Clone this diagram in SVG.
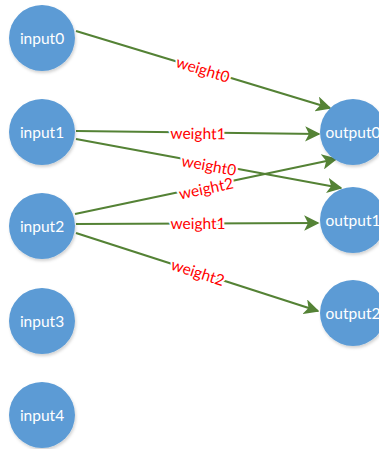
<svg xmlns="http://www.w3.org/2000/svg" width="379" height="449" viewBox="0 0 379 449">
<defs>
<filter id="sh" x="-20%" y="-20%" width="150%" height="150%"><feDropShadow dx="1" dy="2" stdDeviation="1.5" flood-color="#000" flood-opacity="0.18"/></filter>
<marker id="ah" viewBox="0 0 10 10" refX="9" refY="5" markerWidth="7" markerHeight="7" markerUnits="strokeWidth" orient="auto"><path d="M0,0 L10,5 L0,10 L2.5,5 z" fill="#548235"/></marker>
</defs>
<style>
.n{fill:#5B9BD5;filter:url(#sh)}
.t{fill:#fff;font-family:Lato,"Open Sans",sans-serif;font-size:15.5px;text-anchor:middle;dominant-baseline:central}
.e{stroke:#548235;stroke-width:2.2;fill:none;marker-end:url(#ah)}
.l{fill:#f00;font-family:Lato,"Open Sans",sans-serif;font-size:15.5px;text-anchor:middle;dominant-baseline:central;stroke:#fff;stroke-width:4;paint-order:stroke}
</style>
<g id="connectors">
<line class="e" x1="76" y1="31" x2="330" y2="108"/>
<line class="e" x1="76" y1="131" x2="319" y2="134"/>
<line class="e" x1="76" y1="139" x2="341" y2="188"/>
<line class="e" x1="75" y1="214" x2="336" y2="159"/>
<line class="e" x1="76" y1="224" x2="318" y2="223"/>
<line class="e" x1="76" y1="233" x2="318" y2="311"/>
<text class="l" transform="translate(203,69) rotate(16.9)">weight0</text>
<text class="l" transform="translate(198,133) rotate(0.7)">weight1</text>
<text class="l" transform="translate(209,165) rotate(10.5)">weight0</text>
<text class="l" transform="translate(206,188) rotate(-11.9)">weight2</text>
<text class="l" transform="translate(198,223) rotate(-0.2)">weight1</text>
<text class="l" transform="translate(198,272) rotate(17.8)">weight2</text>
</g>
<g id="input0"><circle class="n" cx="42" cy="38" r="33"/><text class="t" x="42" y="38">input0</text></g>
<g id="input1"><circle class="n" cx="42" cy="132" r="33"/><text class="t" x="42" y="132">input1</text></g>
<g id="input2"><circle class="n" cx="42" cy="226" r="33"/><text class="t" x="42" y="226">input2</text></g>
<g id="input3"><circle class="n" cx="42" cy="321" r="33"/><text class="t" x="42" y="321">input3</text></g>
<g id="input4"><circle class="n" cx="42" cy="415" r="33"/><text class="t" x="42" y="415">input4</text></g>
<g id="output0"><circle class="n" cx="353" cy="132" r="33"/><text class="t" x="353" y="132">output0</text></g>
<g id="output1"><circle class="n" cx="353" cy="220" r="33"/><text class="t" x="353" y="220">output1</text></g>
<g id="output2"><circle class="n" cx="353" cy="313" r="33"/><text class="t" x="353" y="313">output2</text></g>
</svg>
